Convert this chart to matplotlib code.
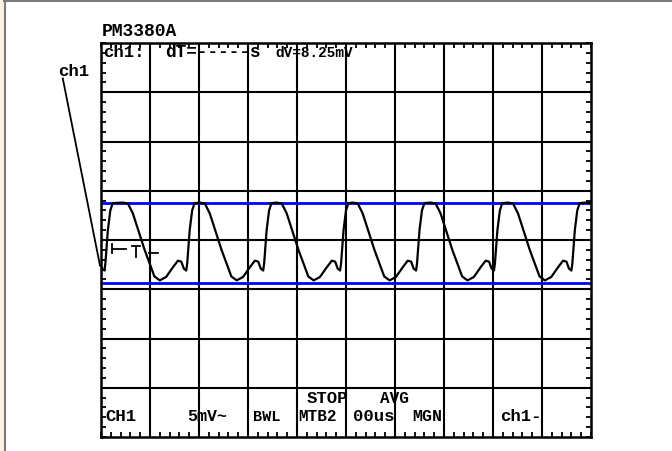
import matplotlib.pyplot as plt
from matplotlib.patches import Rectangle
from matplotlib.lines import Line2D
import numpy as np

# screen is 10 x 8 divisions, 5mV/div
# one cycle of the ch1 trace, measured from its peak (x in div, y in div)
cycle_dx = [0.00, 0.10, 0.20, 0.31, 0.44, 0.54, 0.64, 0.75, 0.88, 1.02,
            1.12, 1.19, 1.24, 1.29, 1.31, 1.36, 1.41, 1.46]
cycle_y = [0.76, 0.74, 0.54, 0.20, -0.20, -0.47, -0.74, -0.82, -0.75, -0.55,
           -0.42, -0.44, -0.58, -0.62, -0.47, 0.20, 0.60, 0.75]
# where each peak sits on the screen (div)
peak_x = [-1.22, 0.45, 2.02, 3.59, 5.14, 6.73, 8.31, 9.90]

cursor_top = 0.76
cursor_bottom = -0.87

top_texts = [("PM3380A", 0.02, 4.14, 13), ("ch1:", 0.04, 3.72, 12.5),
             ("dT=-----s", 1.30, 3.72, 12.8), ("dV=8.25mV", 3.56, 3.72, 10.4)]
bottom_texts = [("STOP", 4.19, -3.31, 12.5), ("AVG", 5.70, -3.31, 11.5),
                ("CH1", 0.08, -3.67, 12.5), ("5mV~", 1.75, -3.67, 12),
                ("BWL", 3.10, -3.67, 11), ("MTB2", 4.02, -3.67, 11.5),
                ("00us", 5.14, -3.67, 12.5), ("MGN", 6.35, -3.67, 12),
                ("ch1-", 8.15, -3.67, 12.5)]

trig_x = 0.22
trig_level = -0.18

t = []
v = []
for p in peak_x:
    t.extend([p + d for d in cycle_dx])
    v.extend(cycle_y)

fig = plt.figure(figsize=(6.72, 4.51), dpi=100)
fig.patch.set_facecolor("white")

# outer frame of the capture window
fig.add_artist(Rectangle((0, 0), 4 / 672, 1, transform=fig.transFigure,
                         facecolor="#fdf3e4", edgecolor="none"))
fig.add_artist(Line2D([4.5 / 672, 4.5 / 672], [0, 1], transform=fig.transFigure,
                      color="#7a7a7a", lw=1.5))
fig.add_artist(Line2D([4 / 672, 1], [1 - 0.7 / 451, 1 - 0.7 / 451],
                      transform=fig.transFigure, color="#7a7a7a", lw=1.5))

ax = fig.add_axes([101 / 672, 14 / 451, 490 / 672, 394 / 451])
ax.set_xlim(0, 10)
ax.set_ylim(-4, 4)
ax.set_facecolor("white")

for x in range(1, 10):
    ax.axvline(x, color="black", lw=1.5, zorder=1)
for y in range(-3, 4):
    ax.axhline(y, color="black", lw=1.5, zorder=1)

ax.set_xticks([])
ax.set_yticks([])
ax.set_xticks(np.arange(0, 10.01, 0.2), minor=True)
ax.set_yticks(np.arange(-4, 4.01, 0.2), minor=True)
ax.tick_params(which="minor", direction="in", length=3.5, width=1.3,
               top=True, right=True, bottom=True, left=True, colors="black")
for s in ax.spines.values():
    s.set_linewidth(1.8)
    s.set_color("black")

ax.axhline(cursor_top, color="#0000ff", lw=2, zorder=2)
ax.axhline(cursor_bottom, color="#0000ff", lw=2, zorder=2)

ax.plot(t, v, color="black", lw=1.6, zorder=3)

# trigger level marker
ax.plot([trig_x, trig_x], [trig_level + 0.09, trig_level - 0.09], color="black", lw=1.3)
ax.plot([trig_x, trig_x + 0.3], [trig_level, trig_level], color="black", lw=1.3)
ax.plot([trig_x + 0.42, trig_x + 0.58], [trig_level + 0.06, trig_level + 0.06], color="black", lw=1.3)
ax.plot([trig_x + 0.5, trig_x + 0.5], [trig_level + 0.06, trig_level - 0.17], color="black", lw=1.3)
ax.plot([trig_x + 0.75, trig_x + 0.95], [trig_level - 0.08, trig_level - 0.08], color="black", lw=1.3)

# ch1 ground pointer
ax.plot([-0.78, -0.02], [3.28, -0.52], color="black", lw=1.3, clip_on=False)
ax.text(-0.88, 3.33, "ch1", fontsize=12.5, family="Liberation Mono",
        weight="bold", va="baseline", ha="left", clip_on=False)

for s, x, y, fs in top_texts + bottom_texts:
    ax.text(x, y, s, fontsize=fs, family="Liberation Mono", weight="bold",
            va="baseline", ha="left", clip_on=False, color="black")

fig.savefig("out.png", dpi=100)
